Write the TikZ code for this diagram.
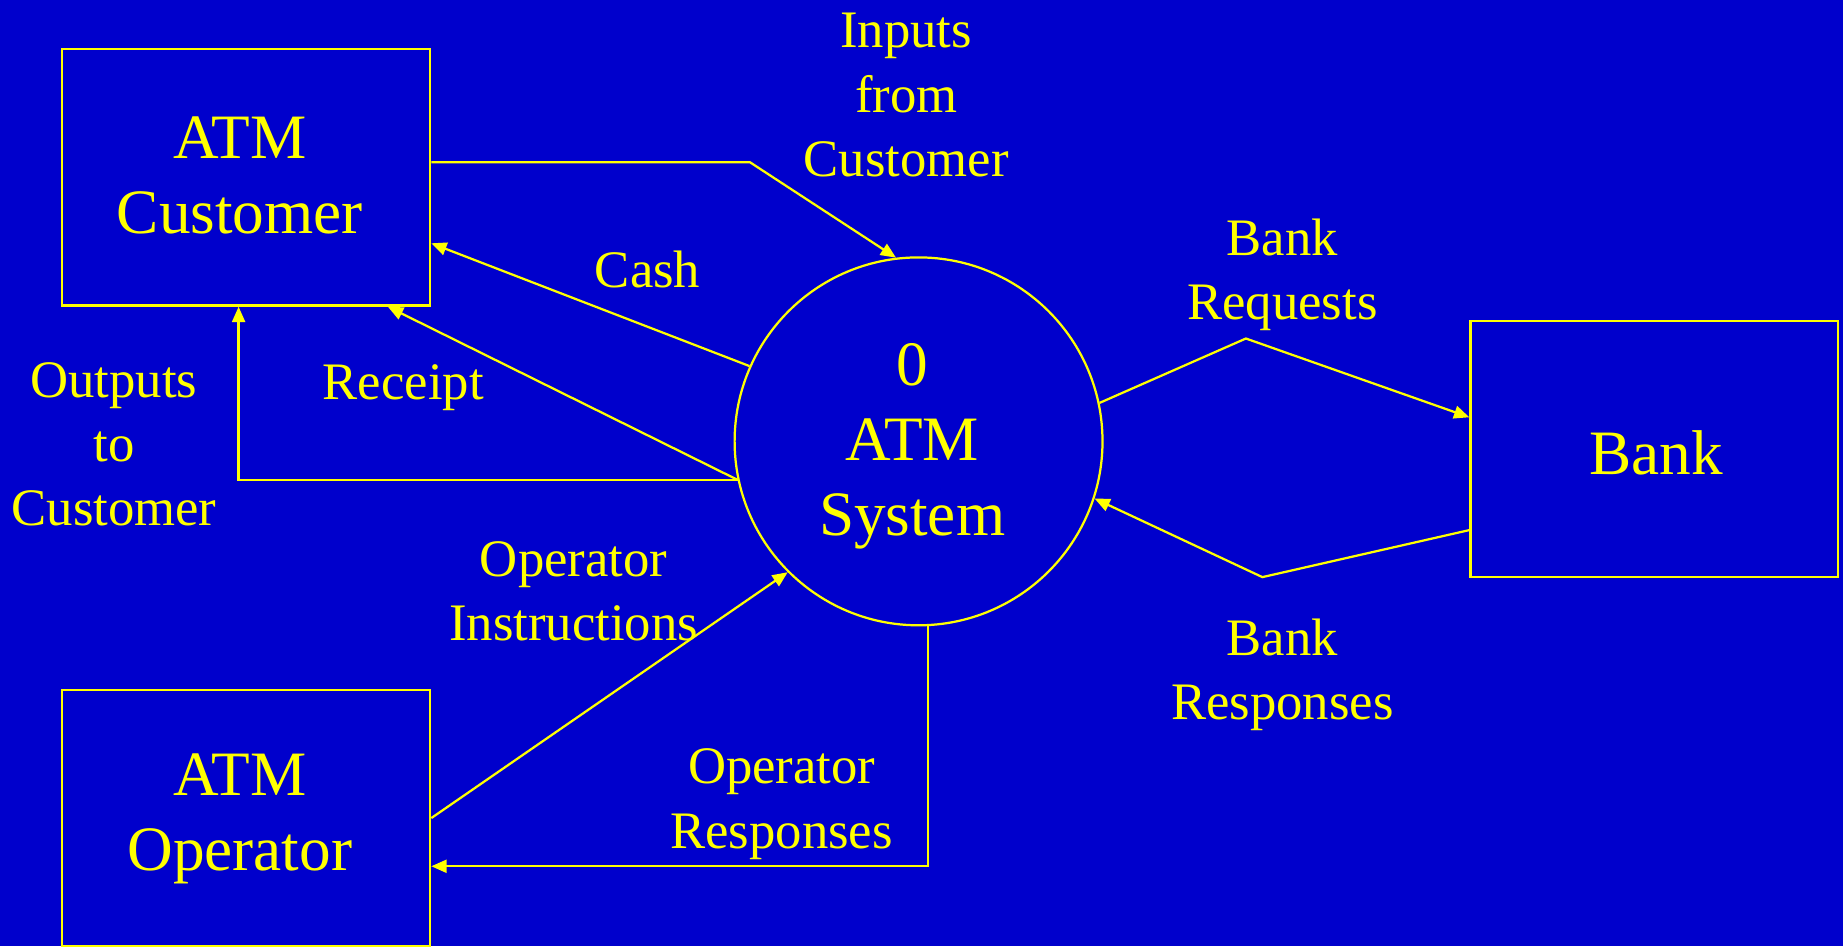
\documentclass[tikz,border=0pt]{standalone}
\usepackage{fontspec}
\setmainfont{Liberation Serif}
\usetikzlibrary{arrows.meta}
\definecolor{bgblue}{RGB}{0,0,204}
\definecolor{ylw}{RGB}{255,255,0}
\begin{document}
\begin{tikzpicture}[x=1bp,y=-1bp,
  entity/.style={draw=ylw, line width=1.9bp, rectangle, minimum width=313bp, minimum height=218bp, inner sep=0pt},
  proc/.style={draw=ylw, line width=1.9bp, circle, minimum size=313bp, inner sep=0pt},
  ntext/.style={text=ylw, align=center, inner sep=0pt, font=\fontsize{54}{64}\selectfont},
  flow/.style={draw=ylw, line width=1.9bp, -{Triangle[length=13bp,width=11bp]}},
  lbl/.style={text=ylw, align=center, font=\fontsize{45}{55}\selectfont, inner sep=0pt}]
\useasboundingbox (0,0) rectangle (1568,805);
\fill[bgblue] (0,0) rectangle (1568,805);
% nodes
\node[entity] (cust) at (209.5,151) {};
\node[entity] (op) at (209.5,696) {};
\node[entity] (bank) at (1407.5,382) {};
\node[proc] (sys) at (781.5,375.5) {};
\node[ntext] (custT) at (204,149) {ATM\\Customer};
\node[ntext] (opT) at (204,697) {ATM\\Operator};
\node[ntext] (bankT) at (1409,385) {Bank};
\node[ntext] (sysT) at (776,379.5) {0\\ATM\\System};
% helper coordinates
\coordinate (bIn) at (638,138);
\coordinate (cashE) at (366,207);
\coordinate (outX) at (203,409);
\coordinate (recX) at (330,262);
\coordinate (bReq) at (1060,288);
\coordinate (bReqE) at (1251,355);
\coordinate (bResS) at (1251,451);
\coordinate (bRes) at (1074,491);
\coordinate (opR) at (789,737);
% flows
\draw[flow] (cust.east |- bIn) -- (bIn) -- (sys.97.8);
\draw[flow] (sys.156.6) -- (cust.east |- cashE);
\draw[flow] (sys.192) -- (cust.south -| recX);
\draw[flow] (sys.192) -- (sys.192 -| outX) -- (cust.south -| outX);
\draw[flow] (sys.12) -- (bReq) -- (bank.west |- bReqE);
\draw[flow] (bank.west |- bResS) -- (bRes) -- (sys.-18.7);
\draw[flow] (op.east) -- (sys.225);
\draw[flow] (sys.-87) -- (sys.-87 |- opR) -- (op.east |- opR);
% labels
\node[lbl] (lIn) at (771,81) {Inputs\\from\\Customer};
\node[lbl] (lCash) at (551,229) {Cash};
\node[lbl] (lRec) at (343,330) {Receipt};
\node[lbl] (lOut) at (97,378) {Outputs\\to\\Customer};
\node[lbl] (lReq) at (1091,234) {Bank\\Requests};
\node[lbl] (lRes) at (1091,574) {Bank\\Responses};
\node[lbl] (lOI) at (488,503) {Operator\\Instructions};
\node[lbl] (lOR) at (665,684) {Operator\\Responses};
\end{tikzpicture}
\end{document}
